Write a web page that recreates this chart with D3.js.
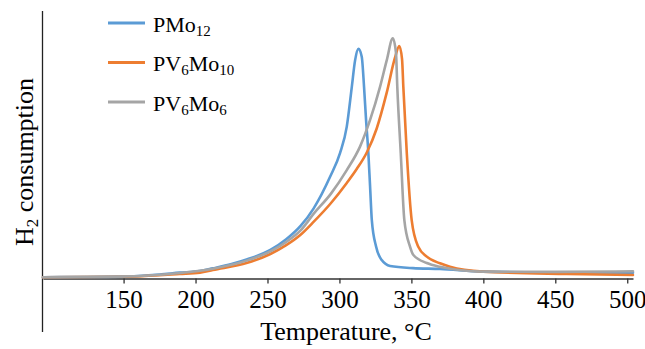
<!DOCTYPE html>
<html>
<head>
<meta charset="utf-8">
<script src="https://cdn.jsdelivr.net/npm/d3@7"></script>
<style>
  html, body { margin: 0; padding: 0; background: #fff; }
  svg { display: block; }
  svg text { font-family: "Liberation Serif", "Times New Roman", serif; }
</style>
</head>
<body>
<svg id="chart" width="645" height="349"></svg>
<script>
// Temperature-programmed reduction profiles (temperature in °C, H2 signal in arbitrary units)
const pmo12T = [94, 120, 148, 175, 189, 203, 212, 225, 236, 252, 263, 273, 282, 293.5, 300.4, 305.1, 308.6, 310.9, 313.2, 315.5, 317.1, 318.5, 320.1, 321.3, 322.5, 325.5, 329.4, 335.2, 351.1, 369.9, 399.8, 450, 504];
const pmo12V = [0.3, 0.35, 0.5, 1.3, 2.0, 2.6, 3.6, 5.2, 7.0, 10.5, 14.5, 19.5, 26.0, 37.9, 46.8, 56.7, 71.6, 81.6, 85.8, 82.9, 71.6, 59.2, 46.8, 34.2, 21.7, 11.7, 6.7, 4.5, 3.7, 3.4, 2.4, 2.1, 2.0];

const pv6mo10T = [94, 148, 189, 203, 212, 236, 252, 263, 273, 282, 294, 305.1, 312, 319, 325.9, 332.9, 338.6, 341.6, 343.5, 344.4, 346.8, 350.2, 354.8, 360.7, 369.9, 376.8, 399.8, 457.9, 504];
const pv6mo10V = [0.3, 0.45, 1.5, 2.0, 3.0, 5.7, 9.0, 12.3, 16.2, 21.0, 28.0, 35.6, 40.8, 47.0, 56.0, 69.5, 82.5, 86.9, 82.0, 71.6, 46.8, 21.7, 11.7, 8.0, 5.5, 4.2, 2.4, 1.5, 1.1];

const pv6mo6T = [94, 148, 189, 212, 236, 252, 263, 273, 282, 294, 305.1, 314.3, 321.3, 328.2, 332.9, 337.1, 339.3, 340.2, 342.6, 345.1, 349.1, 351.4, 360.7, 369.9, 399.8, 450, 504];
const pv6mo6V = [0.3, 0.5, 1.9, 3.5, 6.6, 10.0, 13.5, 17.8, 24.0, 31.5, 40.4, 49.2, 59.2, 71.6, 81.6, 89.8, 84.3, 71.6, 46.8, 21.7, 11.7, 8.6, 5.6, 4.2, 2.4, 2.3, 2.5];

const tickTemps = [150, 200, 250, 300, 350, 400, 450, 500];

const seriesNames = [
  [{t: "PMo"}, {t: "12", sub: true}],
  [{t: "PV"}, {t: "6", sub: true}, {t: "Mo"}, {t: "10", sub: true}],
  [{t: "PV"}, {t: "6", sub: true}, {t: "Mo"}, {t: "6", sub: true}]
];
const seriesColors = ["#5B9BD5", "#ED7D31", "#A5A5A5"];

const series = [
  {T: pmo12T, V: pmo12V},
  {T: pv6mo10T, V: pv6mo10V},
  {T: pv6mo6T, V: pv6mo6V}
].map((s, i) => ({
  name: seriesNames[i],
  color: seriesColors[i],
  points: s.T.map((t, k) => ({t, v: s.V[k]}))
}));

const svg = d3.select("#chart");

const x = d3.scaleLinear().domain([94, 504]).range([43, 633]);
const y = d3.scaleLinear().domain([0, 100]).range([278, 11]);

// x axis
const xAxis = svg.append("g")
  .attr("transform", `translate(0,${y(0) + 0.5})`)
  .call(d3.axisBottom(x).tickValues(tickTemps).tickSize(5).tickSizeOuter(0).tickPadding(7))
  .attr("font-family", "Liberation Serif, serif")
  .attr("font-size", 25);
xAxis.select(".domain").attr("stroke", "#333").attr("stroke-width", 1.3);
xAxis.selectAll(".tick line").attr("stroke", "#333").attr("stroke-width", 1.3);
xAxis.selectAll(".tick text").attr("fill", "#000");

// y axis: plain vertical line running past the baseline
svg.append("line")
  .attr("x1", x(94) - 0.5).attr("x2", x(94) - 0.5)
  .attr("y1", y(100)).attr("y2", 332)
  .attr("stroke", "#222").attr("stroke-width", 1.3);

// curves
const line = d3.line()
  .x(d => x(d.t))
  .y(d => y(d.v))
  .curve(d3.curveMonotoneX);

svg.append("g").selectAll("path")
  .data(series)
  .join("path")
  .attr("d", d => line(d.points))
  .attr("fill", "none")
  .attr("stroke", d => d.color)
  .attr("stroke-width", 2.6)
  .attr("stroke-linejoin", "round")
  .attr("stroke-linecap", "round");

// axis titles
svg.append("text")
  .attr("x", 346).attr("y", 340)
  .attr("text-anchor", "middle")
  .style("font-size", "26px")
  .attr("fill", "#000")
  .text("Temperature, °C");

const yTitle = svg.append("text")
  .attr("transform", "translate(33,162) rotate(-90)")
  .attr("text-anchor", "middle")
  .style("font-size", "26px")
  .attr("fill", "#000");
yTitle.append("tspan").text("H");
yTitle.append("tspan").attr("dy", 5).style("font-size", "17px").text("2");
yTitle.append("tspan").attr("dy", -5).text(" consumption");

// legend
const legend = svg.append("g");
series.forEach((s, i) => {
  const ly = 23 + i * 39.5;
  legend.append("line")
    .attr("x1", 108).attr("x2", 145)
    .attr("y1", ly).attr("y2", ly)
    .attr("stroke", s.color).attr("stroke-width", 3);
  const txt = legend.append("text")
    .attr("x", 153).attr("y", ly + 8.5)
    .style("font-size", "22px")
    .attr("fill", "#000");
  let shifted = false;
  s.name.forEach(part => {
    const ts = txt.append("tspan").text(part.t);
    if (part.sub && !shifted) { ts.attr("dy", 4).style("font-size", "15px"); shifted = true; }
    else if (part.sub) { ts.style("font-size", "15px"); }
    else if (shifted) { ts.attr("dy", -4); shifted = false; }
  });
});
</script>
</body>
</html>
